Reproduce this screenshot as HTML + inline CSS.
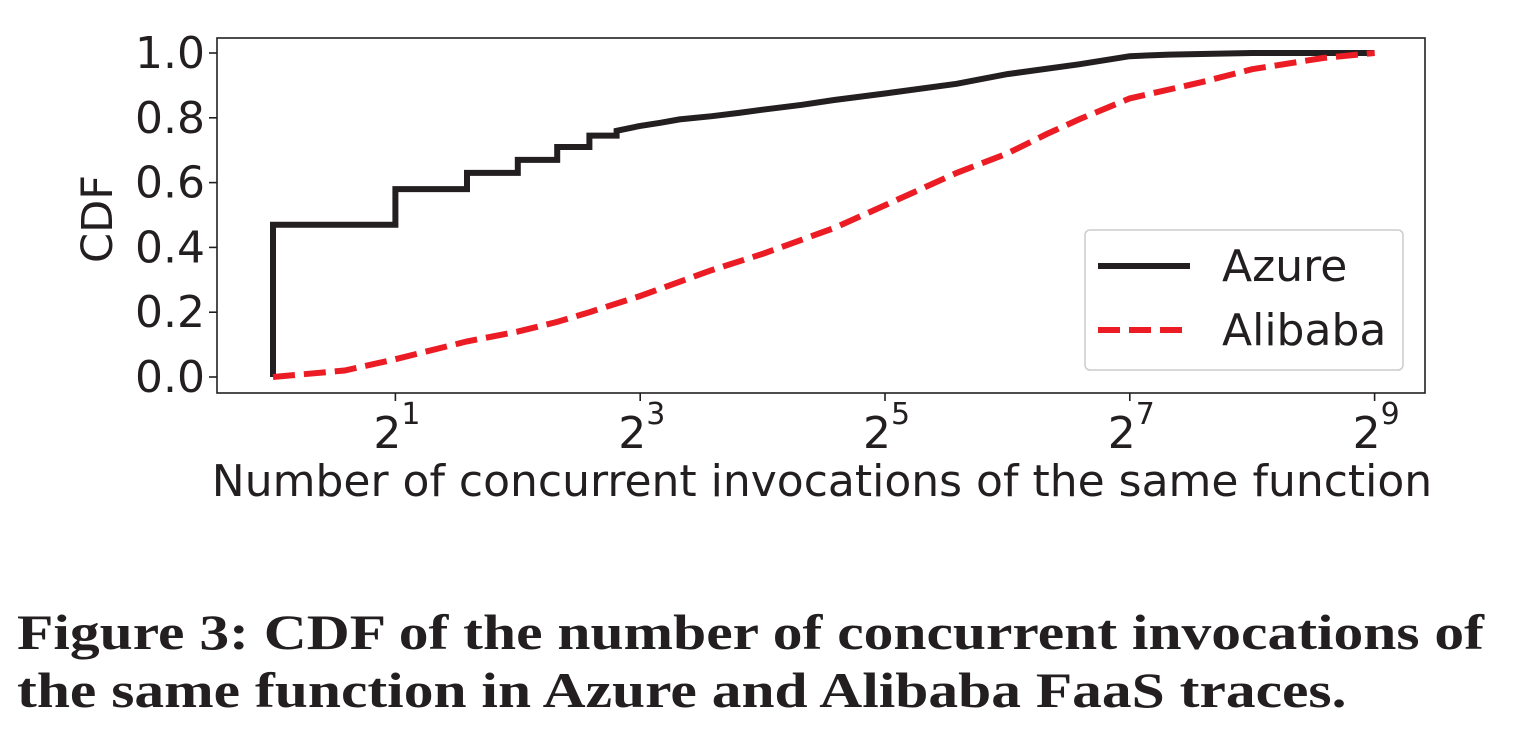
<!DOCTYPE html>
<html><head><meta charset="utf-8"><style>
body{margin:0;background:#fff;width:1513px;height:754px;overflow:hidden}
svg{position:absolute;left:0;top:0}
.cap{position:absolute;left:17px;top:603px;font-family:"Liberation Serif",serif;font-weight:bold;font-size:50px;line-height:58px;color:#231f20;white-space:nowrap;transform:scaleX(1.19);transform-origin:left top}
</style></head><body>
<svg width="1513" height="600" id="chart" font-family="DejaVu Sans, Liberation Sans, sans-serif" fill="#231f20"></svg>
<div class="cap">Figure 3: CDF of the number of concurrent invocations of<br>the same function in Azure and Alibaba FaaS traces.</div>
<script>
const azureX=[1,1,2,2,3,3,4,4,5,5,6,6,7,7,8,9,10,12,14,16,20,24,32,48,64,96,128,160,256,512];
const azureY=[0,0.47,0.47,0.58,0.58,0.63,0.63,0.67,0.67,0.71,0.71,0.745,0.745,0.76,0.775,0.785,0.795,0.805,0.815,0.825,0.84,0.855,0.875,0.905,0.935,0.965,0.99,0.995,1.0,1.0];
const alibabaX=[1,1.5,2,3,4,5,6,8,12,16,24,32,48,64,80,96,128,192,256,384,512];
const alibabaY=[0.0,0.02,0.055,0.11,0.14,0.17,0.2,0.25,0.33,0.38,0.46,0.53,0.63,0.69,0.75,0.795,0.86,0.91,0.95,0.985,1.0];
const yTicks=[0,0.2,0.4,0.6,0.8,1.0];
const xTickExp=[1,3,5,7,9];
const NS="http://www.w3.org/2000/svg";
const svg=document.getElementById('chart');
const L=217,R=1425,T=38,B=393;
const xs=v=>273+Math.log2(v)*122.4;
const ys=v=>377-v*324;
function mk(t,a){const e=document.createElementNS(NS,t);for(const k in a)e.setAttribute(k,a[k]);svg.appendChild(e);return e;}
let f=mk('rect',{x:L,y:T,width:R-L,height:B-T,fill:'none',stroke:'#231f20','stroke-width':1.6});


yTicks.forEach(v=>{
 const t=mk('line',{x1:L-8,x2:L,y1:ys(v),y2:ys(v),stroke:'#231f20','stroke-width':1.6});
 
 
 const l=mk('text',{x:L-12,y:ys(v)+15,'text-anchor':'end','font-size':44});
 l.textContent=v.toFixed(1);
 
 
});
xTickExp.forEach(e=>{
 const x=xs(Math.pow(2,e));
 const t=mk('line',{x1:x,x2:x,y1:B,y2:B+8,stroke:'#231f20','stroke-width':1.6});
 
 
 const l=mk('text',{x:x-8,y:448,'text-anchor':'middle','font-size':44});
 l.textContent='2';
 
 
 const s=mk('text',{x:x+6,y:424,'font-size':30});
 s.textContent=e;
 
 
});
let yl=mk('text',{x:0,y:0,'font-size':43,'text-anchor':'middle',transform:'translate(112,219) rotate(-90)'});
yl.textContent='CDF';


let xl=mk('text',{x:822,y:496,'font-size':44,'text-anchor':'middle'});
xl.textContent='Number of concurrent invocations of the same function';


function pts(X,Y){return X.map((v,i)=>xs(v).toFixed(1)+','+ys(Y[i]).toFixed(1)).join(' ');}
let az=mk('polyline',{points:pts(azureX,azureY),fill:'none',stroke:'#231f20','stroke-width':6,'stroke-linejoin':'miter'});


let al=mk('polyline',{points:pts(alibabaX,alibabaY),fill:'none',stroke:'#ec1c24','stroke-width':6,'stroke-dasharray':'22 9'});


let lg=mk('rect',{x:1085,y:230,width:318,height:140,rx:5,fill:'#fff',stroke:'#ccc','stroke-width':1.5});


let l1=mk('line',{x1:1098,x2:1190,y1:266,y2:266,stroke:'#231f20','stroke-width':6});


let t1=mk('text',{x:1222,y:281,'font-size':44});t1.textContent='Azure';


let l2=mk('line',{x1:1098,x2:1190,y1:330,y2:330,stroke:'#ec1c24','stroke-width':6,'stroke-dasharray':'22 9'});


let t2=mk('text',{x:1222,y:345,'font-size':44});t2.textContent='Alibaba';


</script>
</body></html>
